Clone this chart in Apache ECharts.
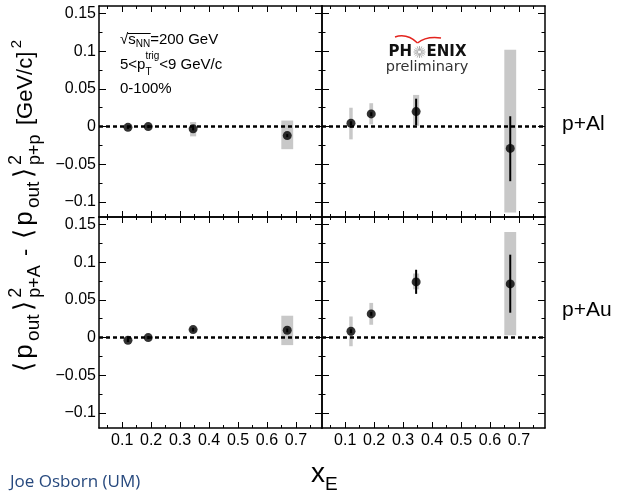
<!DOCTYPE html>
<html>
<head>
<meta charset="utf-8">
<script src="https://cdn.jsdelivr.net/npm/echarts@6/dist/echarts.min.js"></script>
<style>
  html, body { margin: 0; padding: 0; background: #fff; }
  #chart { width: 617px; height: 492px; }
</style>
</head>
<body>
<div id="chart"></div>
<script>
// ---- data ---------------------------------------------------------------
// x_E bin centres and the x-width of each systematic box
const xE = [0.12, 0.19, 0.345, 0.67];
const sysBoxWidth = [0.012, 0.013, 0.021, 0.041];

// p+Al, left column
const alLeftY      = [-0.001, 0.000, -0.003, -0.012];
const alLeftStatLo = [-0.003, -0.002, -0.005, -0.014];
const alLeftStatHi = [0.001, 0.002, -0.001, -0.010];
const alLeftSysLo  = [-0.003, -0.002, -0.013, -0.030];
const alLeftSysHi  = [0.001, 0.002, 0.006, 0.008];

// p+Al, right column
const alRightY      = [0.0044, 0.0168, 0.0199, -0.029];
const alRightStatLo = [0.002, 0.014, 0.002, -0.0725];
const alRightStatHi = [0.007, 0.019, 0.037, 0.0137];
const alRightSysLo  = [-0.017, 0.003, 0.001, -0.114];
const alRightSysHi  = [0.025, 0.031, 0.042, 0.102];

// p+Au, left column
const auLeftY      = [-0.0036, 0.000, 0.0106, 0.0097];
const auLeftStatLo = [-0.006, -0.002, 0.008, 0.007];
const auLeftStatHi = [-0.001, 0.002, 0.013, 0.012];
const auLeftSysLo  = [-0.006, -0.002, 0.008, -0.010];
const auLeftSysHi  = [-0.001, 0.002, 0.013, 0.029];

// p+Au, right column
const auRightY      = [0.0084, 0.0314, 0.0739, 0.0712];
const auRightStatLo = [0.006, 0.029, 0.058, 0.033];
const auRightStatHi = [0.011, 0.034, 0.090, 0.110];
const auRightSysLo  = [-0.0115, 0.017, 0.064, 0.003];
const auRightSysHi  = [0.028, 0.046, 0.085, 0.140];

// axis ticks
const xTickValues  = [0.1, 0.2, 0.3, 0.4, 0.5, 0.6, 0.7];
const xTickLabels  = ['0.1', '0.2', '0.3', '0.4', '0.5', '0.6', '0.7'];
const xMinorValues = [0.05, 0.15, 0.25, 0.35, 0.45, 0.55, 0.65, 0.75];
const yTickValues  = [-0.1, -0.05, 0, 0.05, 0.1, 0.15];
const yTickLabels  = ['\u22120.1', '\u22120.05', '0', '0.05', '0.1', '0.15'];
const yMinorValues = [-0.075, -0.025, 0.025, 0.075, 0.125];

// ---- layout -------------------------------------------------------------
const X_MIN = 0.02, X_MAX = 0.79, Y_MIN = -0.12, Y_MAX = 0.16;
const GRID_W = 223, GRID_H = 211;
const gridOrigins = [[99, 6], [322, 6], [99, 217], [322, 217]];
const SANS = "'Liberation Sans', Arial, sans-serif";

const panels = [
  { y: alLeftY,  statLo: alLeftStatLo,  statHi: alLeftStatHi,  sysLo: alLeftSysLo,  sysHi: alLeftSysHi },
  { y: alRightY, statLo: alRightStatLo, statHi: alRightStatHi, sysLo: alRightSysLo, sysHi: alRightSysHi },
  { y: auLeftY,  statLo: auLeftStatLo,  statHi: auLeftStatHi,  sysLo: auLeftSysLo,  sysHi: auLeftSysHi },
  { y: auRightY, statLo: auRightStatLo, statHi: auRightStatHi, sysLo: auRightSysLo, sysHi: auRightSysHi }
];

function labelFor(v, values, labels) {
  const i = values.findIndex(t => Math.abs(t - v) < 1e-9);
  return i >= 0 ? labels[i] : '';
}

const frameLine = { show: true, onZero: false, lineStyle: { color: '#000', width: 1.5 } };
const tickStyle = { color: '#000', width: 1 };

function xAxesFor(gi, withLabels) {
  const base = { type: 'value', gridIndex: gi, min: X_MIN, max: X_MAX,
                 splitLine: { show: false }, axisLabel: { show: false },
                 axisLine: { show: false, onZero: false } };
  const major = { show: true, inside: true, length: 6, customValues: xTickValues, lineStyle: tickStyle };
  const minor = { show: true, inside: true, length: 3, customValues: xMinorValues, lineStyle: tickStyle };
  return [
    Object.assign({}, base, { position: 'bottom', axisLine: frameLine, axisTick: major,
      axisLabel: withLabels ? { show: true, customValues: xTickValues, margin: 5,
        formatter: v => labelFor(v, xTickValues, xTickLabels),
        color: '#000', fontSize: 16, fontFamily: SANS } : { show: false } }),
    Object.assign({}, base, { position: 'bottom', axisTick: minor }),
    Object.assign({}, base, { position: 'top', axisLine: frameLine, axisTick: major }),
    Object.assign({}, base, { position: 'top', axisTick: minor })
  ];
}

function yAxesFor(gi, withLabels) {
  const base = { type: 'value', gridIndex: gi, min: Y_MIN, max: Y_MAX,
                 splitLine: { show: false }, axisLabel: { show: false },
                 axisLine: { show: false, onZero: false } };
  const major = { show: true, inside: true, length: 7, customValues: yTickValues, lineStyle: tickStyle };
  const minor = { show: true, inside: true, length: 3.5, customValues: yMinorValues, lineStyle: tickStyle };
  return [
    Object.assign({}, base, { position: 'left', axisLine: frameLine, axisTick: major,
      axisLabel: withLabels ? { show: true, customValues: yTickValues, margin: 3,
        formatter: v => labelFor(v, yTickValues, yTickLabels),
        color: '#000', fontSize: 16, fontFamily: SANS } : { show: false } }),
    Object.assign({}, base, { position: 'left', axisTick: minor }),
    Object.assign({}, base, { position: 'right', axisLine: frameLine, axisTick: major }),
    Object.assign({}, base, { position: 'right', axisTick: minor })
  ];
}

const grids = gridOrigins.map(([l, t]) => ({ left: l, top: t, width: GRID_W, height: GRID_H }));
let xAxes = [], yAxes = [];
gridOrigins.forEach((_, gi) => {
  xAxes = xAxes.concat(xAxesFor(gi, gi >= 2));
  yAxes = yAxes.concat(yAxesFor(gi, gi % 2 === 0));
});

function panelSeries(p, gi) {
  const ax = { xAxisIndex: gi * 4, yAxisIndex: gi * 4 };
  return [
    // systematic uncertainty boxes
    Object.assign({
      type: 'custom', z: 1, silent: true,
      data: xE.map((x, k) => [x, p.sysLo[k], p.sysHi[k], sysBoxWidth[k]]),
      renderItem: (params, api) => {
        const x = api.value(0), w = api.value(3);
        const a = api.coord([x - w / 2, api.value(2)]);
        const b = api.coord([x + w / 2, api.value(1)]);
        return { type: 'rect', shape: { x: a[0], y: a[1], width: b[0] - a[0], height: b[1] - a[1] },
                 style: { fill: '#c8c8c8' } };
      }
    }, ax),
    // statistical error bars
    Object.assign({
      type: 'custom', z: 3, silent: true,
      data: xE.map((x, k) => [x, p.statLo[k], p.statHi[k]]),
      renderItem: (params, api) => {
        const a = api.coord([api.value(0), api.value(2)]);
        const b = api.coord([api.value(0), api.value(1)]);
        return { type: 'line', shape: { x1: a[0], y1: a[1], x2: b[0], y2: b[1] },
                 style: { stroke: '#000', lineWidth: 2 } };
      }
    }, ax),
    // central values + dotted zero line
    Object.assign({
      type: 'scatter', z: 4, silent: true,
      symbol: 'circle', symbolSize: 9,
      itemStyle: { color: '#000' },
      data: xE.map((x, k) => [x, p.y[k]]),
      markLine: {
        silent: true, symbol: ['none', 'none'], label: { show: false },
        lineStyle: { color: '#000', type: [4, 3], width: 2.5 },
        data: [{ yAxis: 0 }]
      }
    }, ax)
  ];
}

let series = [];
panels.forEach((p, gi) => { series = series.concat(panelSeries(p, gi)); });

// ---- text helpers -------------------------------------------------------
const measureCtx = document.createElement('canvas').getContext('2d');
function fontOf(size, family, weight) { return (weight || 'normal') + ' ' + size + 'px ' + family; }
function widthOf(str, font) { measureCtx.font = font; return measureCtx.measureText(str).width; }

// Lays out runs of text along a baseline at local y = 0.
// Each run: { t, size, dy, stack, pre, pad } ; stack => next run starts at the same x.
// When totalWidth is given, the leftover length is spread evenly between runs.
function textRuns(runs, family, fill, weight, totalWidth) {
  const placed = [];
  let x = 0, stackW = 0, steps = 0;
  runs.forEach(r => {
    const font = fontOf(r.size, family, weight);
    const w = widthOf(r.t, font);
    placed.push({ r, font, x: x + (r.pre || 0), step: steps });
    const adv = w + (r.pre || 0) + (r.pad || 0);
    if (r.stack) { stackW = Math.max(stackW, adv); return; }
    x += stackW > 0 ? Math.max(stackW, adv) : adv;
    stackW = 0;
    steps++;
  });
  const gap = totalWidth && steps > 1 ? Math.max(0, (totalWidth - x) / (steps - 1)) : 0;
  const children = placed.map(p => ({
    type: 'text', x: p.x + gap * p.step, y: (p.r.dy || 0) - 0.35 * p.r.size,
    style: { text: p.r.t, font: p.font, fill: fill, align: 'left', verticalAlign: 'middle' }
  }));
  return { children, width: Math.max(totalWidth || 0, x) };
}

// ---- y axis title (rotated) --------------------------------------------
const yTitle = textRuns([
  { t: '\u27E8', size: 26 }, { t: 'p', size: 26 }, { t: 'out', size: 19, dy: 6 },
  { t: '\u27E9', size: 26 },
  { t: '2', size: 18, dy: -12, stack: true }, { t: 'p+A', size: 18, dy: 7 },
  { t: ' - ', size: 22 },
  { t: '\u27E8', size: 26 }, { t: 'p', size: 26 }, { t: 'out', size: 19, dy: 6 },
  { t: '\u27E9', size: 26 },
  { t: '2', size: 18, dy: -12, stack: true }, { t: 'p+p', size: 18, dy: 7 },
  { t: ' [GeV/c]', size: 22 }, { t: '2', size: 15, dy: -12 }
], SANS, '#000', 'normal', 332);

// ---- in-panel annotations ----------------------------------------------
const line1 = textRuns([
  { t: '\u221A', size: 15 }, { t: 's', size: 15 }, { t: 'NN', size: 10, dy: 3 }, { t: '=200 GeV', size: 15 }
], SANS, '#000');
const sqrtW = widthOf('\u221A', fontOf(15, SANS));
const sNNW = widthOf('s', fontOf(15, SANS)) + widthOf('NN', fontOf(10, SANS));
const line2 = textRuns([
  { t: '5<p', size: 15 }, { t: 'trig', size: 10, dy: -10, stack: true }, { t: 'T', size: 10, dy: 6 },
  { t: '<9 GeV/c', size: 15 }
], SANS, '#000');
const line3 = textRuns([{ t: '0-100%', size: 15 }], SANS, '#000');

const xTitle = textRuns([{ t: 'x', size: 28 }, { t: 'E', size: 19, dy: 7 }], SANS, '#000');

// logo star rays
const star = [];
const STAR_X = 419.5, STAR_Y = 52;
for (let k = 0; k < 16; k++) {
  const a = k * Math.PI / 8;
  star.push({ type: 'line', silent: true,
    shape: { x1: STAR_X + 1.5 * Math.cos(a), y1: STAR_Y + 1.5 * Math.sin(a),
             x2: STAR_X + 6 * Math.cos(a), y2: STAR_Y + 6 * Math.sin(a) },
    style: { stroke: '#9a9a9a', lineWidth: 0.8 } });
}

const DEJAVU = "'DejaVu Sans', sans-serif";
const graphics = [
  { type: 'group', x: 34, y: 206 + yTitle.width / 2, rotation: Math.PI / 2, children: yTitle.children },
  { type: 'group', x: 120, y: 45, children: line1.children },
  { type: 'line', shape: { x1: 120 + sqrtW - 0.5, y1: 33.5, x2: 120 + sqrtW + sNNW + 0.5, y2: 33.5 },
    style: { stroke: '#000', lineWidth: 1 } },
  { type: 'group', x: 120, y: 70, children: line2.children },
  { type: 'group', x: 120, y: 94, children: line3.children },
  { type: 'group', x: 311, y: 484, children: xTitle.children },
  { type: 'text', x: 562, y: 131.5 - 0.35 * 21,
    style: { text: 'p+Al', font: fontOf(21, SANS), fill: '#000', align: 'left', verticalAlign: 'middle' } },
  { type: 'text', x: 562, y: 318 - 0.35 * 21,
    style: { text: 'p+Au', font: fontOf(21, SANS), fill: '#000', align: 'left', verticalAlign: 'middle' } },
  { type: 'text', x: 10, y: 489 - 0.39 * 17,
    style: { text: 'Joe Osborn (UM)', font: fontOf(17, "'Open Sans', sans-serif"), fill: '#27497e',
             align: 'left', verticalAlign: 'middle' } },
  // PHENIX preliminary logo
  { type: 'text', x: 412, y: 57.3 - 0.35 * 15,
    style: { text: 'PH', font: fontOf(15, DEJAVU, 'bold'), fill: '#111', align: 'right', verticalAlign: 'middle' } },
  { type: 'text', x: 426.5, y: 57.3 - 0.35 * 15,
    style: { text: 'ENIX', font: fontOf(15, DEJAVU, 'bold'), fill: '#111', align: 'left', verticalAlign: 'middle' } },
  { type: 'text', x: 427, y: 72 - 0.35 * 14.5,
    style: { text: 'preliminary', font: fontOf(14.5, DEJAVU), fill: '#333', align: 'center', verticalAlign: 'middle' } },
  { type: 'bezierCurve', shape: { x1: 395, y1: 37, cpx1: 407, cpy1: 33, x2: 417.5, y2: 43 },
    style: { stroke: '#e3231d', lineWidth: 1.5, fill: null } },
  { type: 'bezierCurve', shape: { x1: 417.5, y1: 43, cpx1: 426, cpy1: 36, x2: 441, y2: 38 },
    style: { stroke: '#e3231d', lineWidth: 1.5, fill: null } }
].concat(star);

const chart = echarts.init(document.getElementById('chart'), null, { renderer: 'canvas' });
chart.setOption({
  animation: false,
  backgroundColor: '#fff',
  grid: grids,
  xAxis: xAxes,
  yAxis: yAxes,
  series: series,
  graphic: { elements: graphics }
});
</script>
</body>
</html>
